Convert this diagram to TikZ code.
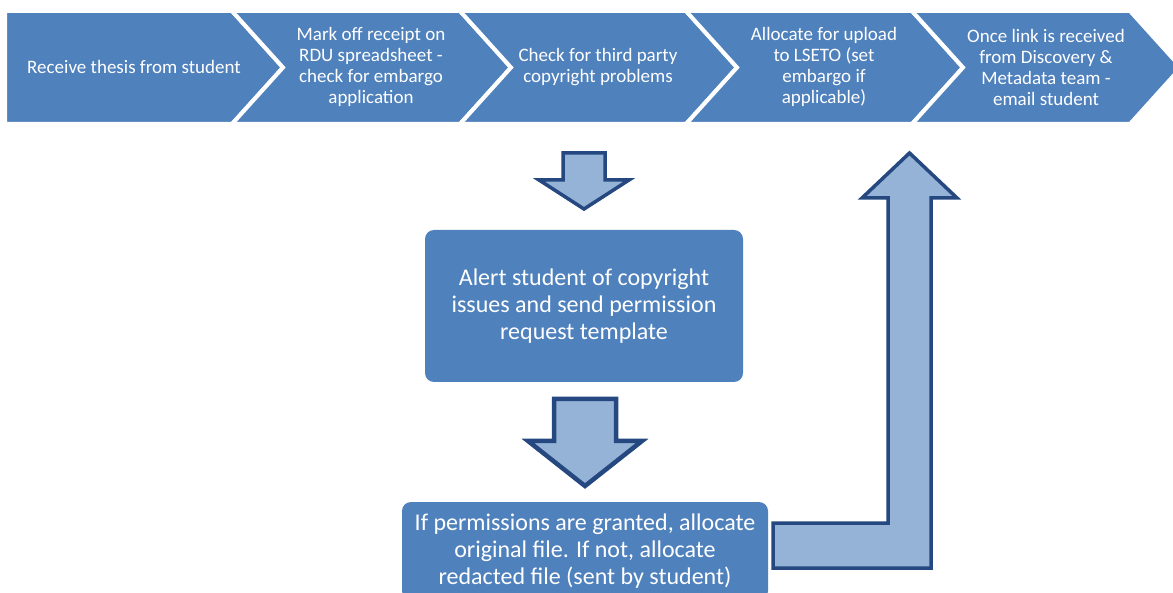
\documentclass[tikz,border=0pt]{standalone}
\usepackage{fontspec}
\setmainfont{Carlito}
\usepackage{tikz}
\usetikzlibrary{positioning, calc}
\definecolor{stepblue}{HTML}{4F81BD}
\definecolor{arrowfill}{HTML}{95B3D7}
\definecolor{arrowline}{HTML}{24487F}
\tikzset{
  thesisflow/.style={
	x=1pt, y=-1pt, % one unit is one pixel of the reference
	every node/.style={text=white, align=center},
  },
  chevbox/.style={fill=stepblue, draw=white, line width=4pt, line join=miter}, % chevrons of the top band
  chevtext/.style={font=\fontsize{19}{21}\selectfont}, % text inside a chevron
  roundbox/.style={fill=stepblue, rounded corners=9pt, font=\fontsize{24}{27}\selectfont}, % the two task boxes
  blockarrow/.style={fill=arrowfill, draw=arrowline, line width=3.5pt, line join=miter}, % fat arrows
}
\begin{document}
\begin{tikzpicture}[thesisflow]
\useasboundingbox (0,0) rectangle (1173,593);
\clip (0,0) rectangle (1173,593);

% top band of chevrons
\draw[chevbox] (5,11) -- (232,11) -- (283,67.5) -- (232,124) -- (5,124) -- cycle;
\draw[chevbox] (232,11) -- (460,11) -- (511,67.5) -- (460,124) -- (232,124) -- (283,67.5) -- cycle;
\draw[chevbox] (460,11) -- (686,11) -- (737,67.5) -- (686,124) -- (460,124) -- (511,67.5) -- cycle;
\draw[chevbox] (686,11) -- (912,11) -- (963,67.5) -- (912,124) -- (686,124) -- (737,67.5) -- cycle;
\draw[chevbox] (912,11) -- (1130,11) -- (1181,67.5) -- (1130,124) -- (912,124) -- (963,67.5) -- cycle;

\node[chevtext] (receive) at (134,67) {Receive thesis from student};
\node[chevtext] (markoff) at (371,67) {Mark off receipt on\\RDU spreadsheet -\\check for embargo\\application};
\node[chevtext] (checkcopy) at (598,67) {Check for third party\\copyright problems};
\node[chevtext] (allocate) at (824,67) {Allocate for upload\\to LSETO (set\\embargo if\\applicable)};
\node[chevtext] (emailstud) at (1046,67) {Once link is received\\from Discovery \&\\Metadata team -\\email student};

% task boxes
\node[roundbox, minimum width=318pt, minimum height=152pt] (alert) at (584,306)
  {Alert student of copyright\\issues and send permission\\request template};
\node[roundbox, minimum width=366pt, minimum height=98pt] (permit) at (585,551)
  {If permissions are granted, allocate\\original file. If not, allocate\\redacted file (sent by student)};

% block arrows
\draw[blockarrow] (563,153) -- (605,153) -- (605,180) -- (629,180) -- (584,209) -- (539,180) -- (563,180) -- cycle;
\draw[blockarrow, line width=4.5pt] (554,399) -- (616,399) -- (616,441) -- (642,441) -- (585,486) -- (528,441) -- (554,441) -- cycle;
\draw[blockarrow] ($(permit.east)+(5,-28)$) -- (888,523) -- (888,198) -- (862,198) -- (909.5,153) -- (957,198) -- (931,198)
  -- (931,568) -- ($(permit.east)+(5,17)$) -- cycle;
\end{tikzpicture}
\end{document}
